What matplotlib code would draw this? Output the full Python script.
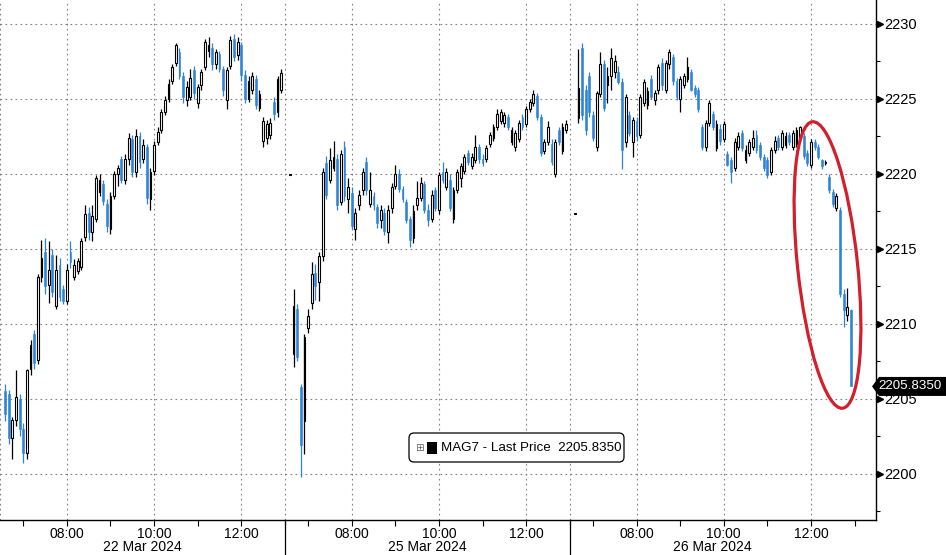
import matplotlib
matplotlib.use('Agg')
import matplotlib.pyplot as plt
from matplotlib.patches import Ellipse, Polygon, FancyBboxPatch, Rectangle
from matplotlib.transforms import IdentityTransform, blended_transform_factory

plt.rcParams['font.family'] = ['Liberation Sans', 'DejaVu Sans']

# 数据
session_dates = ['22 Mar 2024', '25 Mar 2024', '26 Mar 2024']
hour_labels = ['08:00', '10:00', '12:00']
y_ticks = [2200, 2205, 2210, 2215, 2220, 2225, 2230]
series_name = 'MAG7 - Last Price'
last_price = 2205.835

# 22 Mar, 5分钟K线, 06:35 起
s1_open = [2205.5, 2205.3, 2202.4, 2203.6, 2205.0, 2203.0, 2201.4, 2207.0, 2209.3, 2207.6,
           2213.1, 2214.8, 2212.6, 2214.6, 2211.2, 2213.9, 2212.3, 2211.5, 2214.8, 2213.1,
           2213.5, 2213.8, 2215.8, 2217.4, 2216.1, 2217.0, 2218.8, 2219.3, 2218.0, 2216.3,
           2218.5, 2220.0, 2221.0, 2219.6, 2221.0, 2222.3, 2220.1, 2222.5, 2221.0, 2221.8,
           2218.3, 2220.2, 2222.1, 2222.9, 2224.1, 2225.0, 2226.2, 2227.4, 2228.1, 2226.5,
           2224.9, 2225.1, 2226.9, 2224.7, 2225.9, 2227.1, 2228.2, 2228.4, 2227.3, 2228.0,
           2227.0, 2224.9, 2227.2, 2229.0, 2227.9, 2228.6, 2226.6, 2225.0, 2225.6, 2226.3,
           2224.4, 2222.2, 2222.4, 2222.6, 2224.8, 2224.1, 2225.6]
s1_high = [2206.0, 2205.6, 2203.8, 2206.9, 2205.3, 2203.4, 2207.0, 2208.9, 2209.6, 2213.3,
           2215.6, 2215.7, 2215.5, 2215.0, 2214.6, 2214.4, 2212.6, 2214.0, 2215.5, 2214.3,
           2214.4, 2215.7, 2217.9, 2217.8, 2217.9, 2219.9, 2220.0, 2219.6, 2218.3, 2218.8,
           2220.2, 2220.6, 2221.2, 2221.3, 2222.7, 2222.6, 2223.0, 2222.8, 2222.3, 2222.0,
           2220.4, 2222.2, 2223.1, 2224.3, 2225.2, 2226.3, 2227.3, 2228.7, 2228.4, 2226.8,
           2226.2, 2227.0, 2227.2, 2226.0, 2227.0, 2229.0, 2229.1, 2228.7, 2228.3, 2228.2,
           2227.2, 2227.1, 2229.2, 2229.3, 2229.1, 2228.8, 2226.9, 2226.5, 2226.8, 2226.6,
           2225.6, 2223.8, 2223.6, 2223.7, 2225.1, 2226.5, 2227.0]
s1_low = [2203.5, 2202.0, 2201.0, 2203.2, 2202.5, 2200.7, 2201.0, 2206.6, 2207.0, 2207.3,
          2212.8, 2212.0, 2211.4, 2211.8, 2211.0, 2211.5, 2211.3, 2211.3, 2213.7, 2212.9,
          2213.3, 2213.6, 2215.5, 2215.6, 2215.5, 2216.8, 2218.5, 2217.9, 2216.1, 2216.0,
          2218.3, 2219.2, 2219.4, 2219.3, 2220.6, 2219.8, 2219.8, 2220.4, 2220.7, 2218.0,
          2217.6, 2219.9, 2221.9, 2222.7, 2223.9, 2224.8, 2226.0, 2227.2, 2226.3, 2224.7,
          2224.5, 2224.9, 2225.0, 2224.4, 2225.6, 2226.9, 2227.8, 2226.9, 2227.0, 2226.8,
          2225.2, 2224.3, 2227.0, 2227.5, 2227.6, 2226.2, 2224.7, 2224.8, 2225.3, 2224.3,
          2224.2, 2221.8, 2222.0, 2222.3, 2223.6, 2223.8, 2225.4]
s1_close = [2204.0, 2202.4, 2203.6, 2205.1, 2203.0, 2201.4, 2206.9, 2208.6, 2207.4, 2213.1,
            2214.4, 2212.5, 2213.6, 2212.1, 2213.6, 2211.8, 2211.5, 2213.6, 2214.1, 2213.9,
            2214.2, 2215.5, 2217.3, 2216.1, 2217.2, 2219.7, 2219.6, 2218.2, 2216.5, 2218.5,
            2220.0, 2220.4, 2219.6, 2221.0, 2222.4, 2220.1, 2222.5, 2220.8, 2221.9, 2218.4,
            2220.1, 2221.9, 2222.8, 2224.1, 2224.9, 2226.0, 2227.1, 2228.6, 2226.5, 2225.1,
            2225.8, 2226.4, 2225.4, 2225.8, 2226.8, 2228.8, 2228.6, 2227.3, 2228.1, 2227.0,
            2225.6, 2226.9, 2228.9, 2227.8, 2228.8, 2226.6, 2225.0, 2226.2, 2226.5, 2224.6,
            2225.3, 2223.5, 2223.3, 2223.4, 2224.0, 2226.3, 2226.7]

# 25 Mar
s2_open = [2219.9, 2208.0, 2211.0, 2205.8, 2203.5, 2209.7, 2211.4, 2213.4, 2212.8, 2214.5,
           2220.7, 2219.6, 2220.4, 2221.0, 2218.1, 2221.8, 2218.3, 2218.7, 2216.3, 2217.9,
           2218.9, 2220.8, 2218.0, 2218.5, 2217.8, 2216.9, 2217.4, 2216.1, 2217.7, 2219.2,
           2220.0, 2219.0, 2218.1, 2217.0, 2215.7, 2217.9, 2218.4, 2219.3, 2217.6, 2217.0,
           2218.9, 2217.6, 2220.1, 2219.1, 2219.6, 2217.0, 2218.9, 2219.7, 2220.2, 2221.4,
           2220.5, 2220.9, 2221.8, 2221.0, 2221.0, 2222.0, 2222.4, 2223.1, 2223.5, 2223.4,
           2223.8, 2222.1, 2221.8, 2222.3, 2223.8, 2223.3, 2224.3, 2224.7, 2225.2, 2223.8,
           2221.5, 2222.1, 2222.0, 2220.0, 2222.9, 2221.5, 2222.9]
s2_high = [2219.9, 2212.3, 2211.3, 2206.0, 2209.3, 2211.0, 2214.1, 2214.0, 2214.8, 2220.4,
           2221.2, 2221.7, 2222.2, 2221.3, 2221.6, 2222.2, 2219.7, 2219.1, 2217.7, 2218.9,
           2220.4, 2221.1, 2220.1, 2218.8, 2218.0, 2217.9, 2217.7, 2217.9, 2219.4, 2220.6,
           2220.3, 2219.2, 2218.3, 2217.2, 2217.9, 2219.5, 2219.8, 2219.5, 2218.0, 2218.9,
           2219.1, 2220.1, 2220.8, 2220.4, 2220.0, 2219.1, 2220.3, 2220.7, 2221.3, 2221.6,
           2221.4, 2222.6, 2222.0, 2221.3, 2221.9, 2222.8, 2223.3, 2224.3, 2224.3, 2224.1,
           2224.0, 2223.1, 2222.9, 2223.6, 2224.0, 2224.5, 2225.0, 2225.6, 2225.4, 2224.0,
           2222.3, 2223.5, 2222.3, 2222.3, 2223.1, 2223.4, 2223.6]
s2_low = [2219.9, 2207.1, 2207.5, 2199.8, 2201.3, 2209.4, 2211.0, 2211.6, 2211.5, 2214.2,
          2218.3, 2219.4, 2220.2, 2217.6, 2217.9, 2218.2, 2217.4, 2216.3, 2215.6, 2217.6,
          2218.6, 2218.6, 2217.8, 2217.6, 2216.4, 2216.4, 2215.9, 2215.4, 2217.4, 2219.0,
          2218.8, 2218.1, 2216.7, 2215.1, 2215.4, 2217.6, 2218.2, 2217.4, 2216.5, 2216.8,
          2217.5, 2217.3, 2219.4, 2218.9, 2217.5, 2216.7, 2218.7, 2219.1, 2220.0, 2220.6,
          2220.3, 2220.7, 2220.7, 2220.5, 2220.8, 2221.8, 2222.2, 2222.9, 2223.3, 2223.1,
          2222.9, 2221.9, 2221.5, 2222.1, 2222.9, 2223.1, 2224.1, 2224.5, 2223.6, 2221.2,
          2221.3, 2221.9, 2220.6, 2219.8, 2221.9, 2221.3, 2222.7]
s2_close = [2219.9, 2211.2, 2207.8, 2201.9, 2209.1, 2210.5, 2213.3, 2212.5, 2214.5, 2220.1,
            2218.6, 2220.9, 2221.1, 2217.9, 2221.3, 2218.5, 2219.1, 2216.5, 2217.4, 2218.6,
            2220.1, 2218.9, 2218.9, 2217.9, 2216.7, 2217.6, 2216.2, 2217.6, 2219.1, 2220.0,
            2219.0, 2218.3, 2216.9, 2215.6, 2217.5, 2218.4, 2219.4, 2217.6, 2216.9, 2218.6,
            2217.7, 2219.9, 2219.6, 2220.1, 2217.7, 2218.9, 2220.1, 2220.5, 2221.1, 2220.8,
            2221.1, 2221.8, 2221.0, 2220.7, 2221.7, 2222.6, 2223.1, 2224.0, 2224.1, 2223.9,
            2223.1, 2222.9, 2222.7, 2223.4, 2223.1, 2224.3, 2224.8, 2225.3, 2223.8, 2221.4,
            2222.1, 2223.1, 2220.8, 2222.1, 2222.1, 2223.1, 2223.3]

# 26 Mar
s3_open = [2217.3, 2223.7, 2228.4, 2225.6, 2226.5, 2223.9, 2221.8, 2225.3, 2227.3, 2225.9,
           2226.5, 2226.8, 2226.8, 2226.1, 2222.1, 2223.9, 2222.1, 2223.5, 2222.6, 2224.7,
           2224.6, 2226.3, 2224.9, 2225.6, 2227.4, 2225.6, 2227.3, 2227.8, 2226.2, 2225.0,
           2225.9, 2226.3, 2226.8, 2225.7, 2225.6, 2223.1, 2221.8, 2223.4, 2224.0, 2221.7,
           2223.0, 2222.3, 2221.3, 2220.9, 2220.4, 2221.8, 2222.7, 2220.9, 2221.4, 2221.8,
           2222.6, 2221.9, 2221.1, 2220.9, 2220.1, 2221.6, 2222.4, 2221.8, 2221.9, 2222.6,
           2221.8, 2222.0, 2222.3, 2222.5, 2221.4, 2220.6, 2222.1, 2221.8, 2220.9, 2220.7,
           2219.8, 2218.8, 2217.7, 2217.6, 2212.0, 2210.6, 2210.9]
s3_high = [2217.3, 2228.3, 2228.7, 2225.9, 2226.8, 2224.2, 2225.5, 2228.1, 2227.6, 2227.1,
           2228.4, 2227.9, 2227.2, 2226.4, 2225.3, 2224.2, 2223.8, 2223.8, 2225.3, 2226.3,
           2225.8, 2226.6, 2225.6, 2227.3, 2227.7, 2227.6, 2228.3, 2228.0, 2226.4, 2226.5,
           2226.7, 2227.8, 2227.0, 2225.9, 2225.8, 2223.3, 2223.6, 2224.9, 2224.2, 2223.6,
           2223.3, 2223.5, 2221.5, 2221.1, 2222.4, 2222.8, 2222.9, 2221.9, 2222.3, 2222.9,
           2222.9, 2222.1, 2221.3, 2221.1, 2221.8, 2222.5, 2222.6, 2222.9, 2222.8, 2222.8,
           2222.9, 2223.1, 2223.2, 2222.7, 2221.6, 2222.3, 2222.3, 2222.0, 2221.0, 2220.9,
           2220.0, 2219.0, 2218.7, 2217.8, 2212.3, 2212.4, 2211.0]
s3_low = [2217.3, 2223.4, 2223.6, 2222.6, 2223.8, 2222.2, 2221.5, 2225.1, 2224.2, 2224.7,
          2225.6, 2226.4, 2226.0, 2220.3, 2221.8, 2222.5, 2221.1, 2222.2, 2222.4, 2224.5,
          2224.3, 2225.0, 2224.6, 2225.3, 2225.6, 2225.4, 2227.0, 2225.9, 2224.9, 2224.1,
          2225.7, 2226.1, 2225.5, 2225.1, 2224.1, 2221.6, 2221.5, 2223.2, 2222.9, 2221.5,
          2221.9, 2222.1, 2220.5, 2219.4, 2220.2, 2221.6, 2221.5, 2220.7, 2221.2, 2221.6,
          2221.4, 2220.9, 2220.2, 2219.7, 2219.9, 2221.4, 2221.6, 2221.6, 2221.7, 2221.9,
          2221.6, 2221.8, 2222.1, 2221.0, 2220.5, 2220.4, 2221.6, 2221.0, 2220.3, 2220.6,
          2218.7, 2217.8, 2217.5, 2211.8, 2209.8, 2210.2, 2205.835]
s3_close = [2217.3, 2225.7, 2223.9, 2222.9, 2224.1, 2222.4, 2225.4, 2227.3, 2224.4, 2226.5,
            2227.7, 2227.5, 2226.1, 2221.6, 2225.1, 2222.7, 2223.6, 2222.5, 2225.1, 2226.1,
            2225.5, 2225.1, 2225.4, 2227.1, 2225.9, 2227.4, 2228.1, 2226.2, 2225.1, 2226.3,
            2226.5, 2227.1, 2225.6, 2225.3, 2224.3, 2221.8, 2223.4, 2224.7, 2223.1, 2223.3,
            2222.2, 2223.3, 2220.6, 2220.1, 2222.1, 2222.5, 2221.7, 2221.6, 2222.1, 2222.4,
            2221.6, 2221.1, 2220.4, 2219.9, 2221.6, 2222.2, 2221.8, 2222.7, 2222.5, 2222.1,
            2222.7, 2222.9, 2223.1, 2221.2, 2220.7, 2222.1, 2221.8, 2221.1, 2220.5, 2220.8,
            2218.9, 2218.0, 2218.5, 2212.0, 2210.9, 2211.1, 2205.835]

sessions = [(s1_open, s1_high, s1_low, s1_close),
            (s2_open, s2_high, s2_low, s2_close),
            (s3_open, s3_high, s3_low, s3_close)]

# 每个交易段 06:28-13:00, 共392分钟
SESSION = 392
FIRST = 7       # 06:35
STEP = 5
BLUE = '#2d84d6'
W, H = 946, 555

fig = plt.figure(figsize=(W / 100, H / 100), dpi=100)
ax = fig.add_axes([0, 35 / H, 876 / W, 520 / H])
ax.set_xlim(0, 1205.5)
ax.set_ylim(2196.93, 2231.6)

# 网格
grid_kw = dict(color='#808080', lw=0.8, ls=(0, (1.5, 3)), zorder=1)
for y in y_ticks:
    ax.axhline(y, **grid_kw)
for s in range(3):
    for m in [0, 92, 212, 332]:
        ax.axvline(s * SESSION + m, **grid_kw)

# K线
for s, (o, h, l, c) in enumerate(sessions):
    for k in range(len(o)):
        x = s * SESSION + FIRST + STEP * k
        up = c[k] >= o[k]
        col = 'black' if up else BLUE
        ax.vlines(x, l[k], h[k], colors=col, lw=0.9, zorder=2)
        bottom = min(o[k], c[k])
        height = max(abs(c[k] - o[k]), 0.08)
        ax.bar(x, height, bottom=bottom, width=2.5,
               color='white' if up else BLUE,
               edgecolor='black' if up else BLUE,
               lw=0.8 if up else 0.4, zorder=3)

# 坐标轴
for side in ['top', 'left']:
    ax.spines[side].set_visible(False)
for side in ['right', 'bottom']:
    ax.spines[side].set_linewidth(1.0)

ax.yaxis.tick_right()
ax.set_yticks(y_ticks)
ax.set_yticklabels([str(v) for v in y_ticks])
ax.set_yticks([v + 2.5 for v in [2195] + y_ticks[:-1]], minor=True)
ax.tick_params(axis='y', which='major', length=0, pad=6, labelsize=10.5)
ax.tick_params(axis='y', which='minor', length=3, width=0.8, direction='out')

xt_major, xt_labels, xt_minor = [], [], []
for s in range(3):
    for m, lab in zip([92, 212, 332], hour_labels):
        xt_major.append(s * SESSION + m)
        xt_labels.append(lab)
    for m in [32, 152, 272, 392]:
        xt_minor.append(s * SESSION + m)
ax.set_xticks(xt_major)
ax.set_xticklabels(xt_labels)
ax.set_xticks(xt_minor, minor=True)
ax.tick_params(axis='x', which='both', length=4, width=0.8, direction='out', pad=1, labelsize=10)

# 右侧三角刻度
tri = blended_transform_factory(ax.transAxes, ax.transData)
ax.plot([1 + 3.5 / 876] * len(y_ticks), y_ticks, ls='none', marker='>', ms=4.5,
        color='black', transform=tri, clip_on=False, zorder=5)

# 日期分隔线
sep = blended_transform_factory(ax.transData, ax.transAxes)
for s in [1, 2]:
    ax.plot([s * SESSION, s * SESSION], [0, -35 / 520], color='black', lw=0.9,
            transform=sep, clip_on=False)
for s, d in enumerate(session_dates):
    x_disp = ax.transData.transform((s * SESSION + 196, 0))[0]
    fig.text(x_disp / W, (H - 547) / H, d, ha='center', va='center', fontsize=10)

# 最新价标签
ident = IdentityTransform()
ytip = ax.transData.transform((0, last_price))[1]
fig.add_artist(Polygon([(872, ytip), (879, ytip + 9.5), (946, ytip + 9.5),
                        (946, ytip - 9.5), (879, ytip - 9.5)],
                       closed=True, fc='black', ec='none', transform=ident))
fig.text(878.5, ytip, f'{last_price:.4f}', color='white', fontsize=9.6,
         va='center', ha='left', transform=ident)

# 图例
fig.add_artist(FancyBboxPatch((411, 95), 211, 25, boxstyle='round,pad=2,rounding_size=5',
                              fc='white', ec='black', lw=0.9, transform=ident))
fig.text(419, 107, '\u229e', color='#666666', fontsize=7.5, family='DejaVu Sans',
         ha='center', va='center', transform=ident)
fig.add_artist(Rectangle((427, 101), 10, 12, fc='black', ec='none', transform=ident))
fig.text(441, 107, f'{series_name}  {last_price:.4f}', fontsize=9.6,
         ha='left', va='center', transform=ident)

# 红圈
fig.add_artist(Ellipse((827.5, 290), width=60, height=288, angle=6, fill=False,
                       ec='#d21f2b', lw=2.3, transform=ident))

fig.savefig('out.png', dpi=100)
